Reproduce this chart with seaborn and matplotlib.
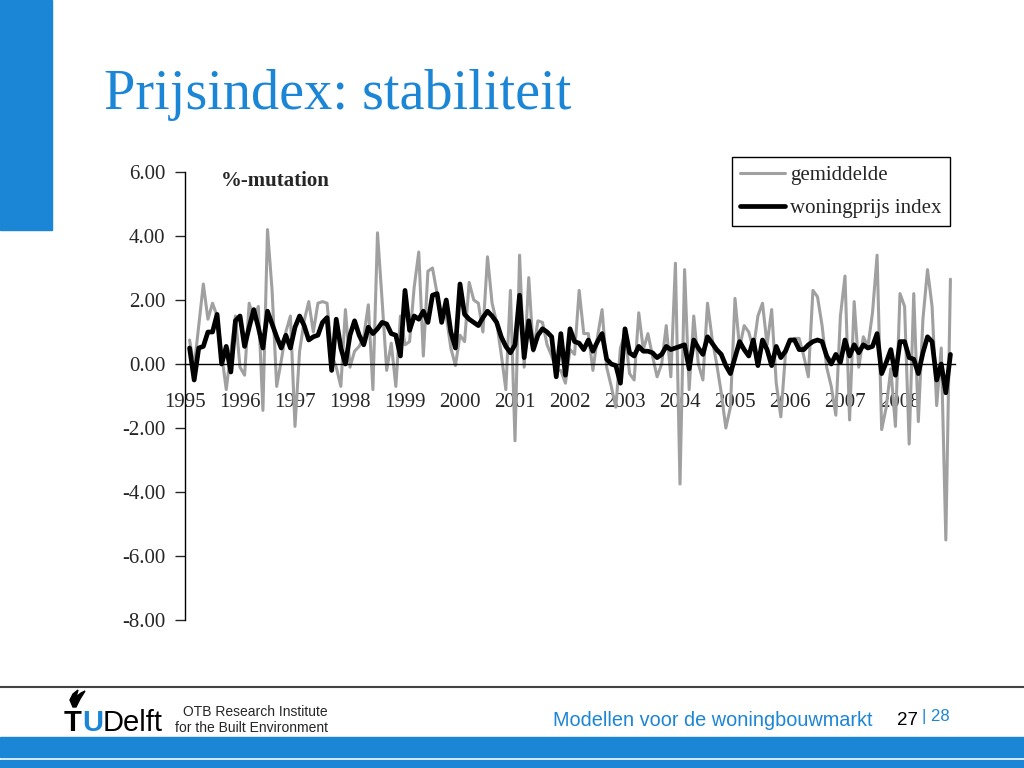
import matplotlib
matplotlib.use("Agg")
import matplotlib.pyplot as plt
from matplotlib.patches import Rectangle, Polygon
from matplotlib.lines import Line2D
import numpy as np
import pandas as pd
import seaborn as sns

# year labels on the category axis (label sits on January of each year)
years = [1995, 1996, 1997, 1998, 1999, 2000, 2001, 2002,
         2003, 2004, 2005, 2006, 2007, 2008]

# monthly %-mutation, Feb 1995 .. Dec 2008 (one row per year)
gemiddelde = [
    0.75, -0.1, 1.2, 2.5, 1.4, 1.9, 1.5, 0.3, -0.8, 0.4, 1.5,
    -0.1, -0.35, 1.9, 1.4, 1.8, -1.45, 4.2, 2.3, -0.7, 0.1, 1.0, 1.5,
    -1.95, 0.4, 1.35, 1.95, 1.0, 1.9, 1.95, 1.9, 0.3, -0.1, -0.7, 1.7,
    -0.1, 0.4, 0.55, 0.85, 1.85, -0.8, 4.1, 2.0, -0.2, 0.65, -0.7, 1.5,
    0.6, 0.7, 2.4, 3.5, 0.25, 2.9, 3.0, 2.2, 1.4, 1.5, 0.5, -0.05,
    0.9, 0.7, 2.55, 2.0, 1.9, 1.0, 3.35, 1.9, 1.3, 0.3, -0.8, 2.3,
    -2.4, 3.4, -0.1, 2.7, 0.4, 1.35, 1.3, 0.6, 0.25, -0.2, -0.2, -0.6,
    0.45, 0.3, 2.3, 0.95, 0.95, -0.2, 0.85, 1.7, -0.1, -0.7, -1.35, 0.5,
    0.95, -0.3, -0.5, 1.6, 0.45, 0.95, 0.25, -0.4, 0.0, 1.2, -0.4, 3.15,
    -3.75, 2.95, -0.8, 1.5, 0.0, -0.5, 1.9, 0.8, 0.0, -0.9, -2.0, -1.35,
    2.05, 0.5, 1.2, 1.0, 0.45, 1.5, 1.9, 0.6, 1.7, -0.6, -1.65, 0.3,
    0.7, 0.8, 0.8, 0.25, -0.4, 2.3, 2.1, 1.2, -0.1, -0.7, -1.6, 1.5,
    2.75, -1.75, 1.95, -0.1, 0.85, 0.55, 1.6, 3.4, -2.05, -1.35, -0.15, -1.95,
    2.2, 1.8, -2.5, 2.2, -1.8, 1.4, 2.95, 1.8, -1.3, 0.5, -5.5, 2.65,
]

woningprijs_index = [
    0.5, -0.5, 0.5, 0.55, 1.0, 1.0, 1.55, 0.0, 0.55, -0.25, 1.35,
    1.5, 0.55, 1.15, 1.7, 1.15, 0.5, 1.65, 1.25, 0.85, 0.5, 0.9, 0.5,
    1.15, 1.5, 1.2, 0.75, 0.85, 0.9, 1.3, 1.45, -0.2, 1.4, 0.5, 0.0,
    0.9, 1.35, 0.9, 0.6, 1.15, 0.95, 1.1, 1.3, 1.25, 0.95, 0.9, 0.25,
    2.3, 1.05, 1.5, 1.4, 1.65, 1.3, 2.15, 2.2, 1.3, 2.0, 1.0, 0.5,
    2.5, 1.55, 1.4, 1.3, 1.2, 1.45, 1.65, 1.5, 1.3, 0.85, 0.55, 0.35,
    0.6, 2.15, 0.2, 1.35, 0.45, 0.9, 1.1, 1.0, 0.85, -0.4, 0.95, -0.35,
    1.1, 0.7, 0.65, 0.45, 0.75, 0.4, 0.7, 0.95, 0.15, 0.0, -0.05, -0.6,
    1.1, 0.35, 0.25, 0.55, 0.4, 0.4, 0.35, 0.2, 0.3, 0.55, 0.45, 0.5,
    0.55, 0.6, -0.15, 0.75, 0.5, 0.3, 0.85, 0.65, 0.45, 0.3, -0.05, -0.3,
    0.2, 0.7, 0.45, 0.25, 0.75, -0.05, 0.75, 0.45, -0.05, 0.55, 0.2, 0.4,
    0.75, 0.75, 0.45, 0.45, 0.6, 0.7, 0.75, 0.7, 0.25, 0.0, 0.3, 0.05,
    0.75, 0.25, 0.6, 0.35, 0.6, 0.5, 0.55, 0.95, -0.3, 0.05, 0.45, -0.35,
    0.7, 0.7, 0.2, 0.15, -0.3, 0.35, 0.85, 0.7, -0.5, 0.0, -0.9, 0.3,
]

yticks = [-8, -6, -4, -2, 0, 2, 4, 6]

BLUE = '#1c86d6'
GREY = '#a0a0a0'
SANS = ['Liberation Sans', 'DejaVu Sans']

sns.set_style('white')
plt.rcParams['font.family'] = ['Liberation Serif', 'DejaVu Serif']
plt.rcParams['axes.unicode_minus'] = False

df = pd.DataFrame({
    'month': np.arange(1, len(woningprijs_index) + 1),
    'gemiddelde': gemiddelde,
    'woningprijs index': woningprijs_index,
})

W, H = 1024, 768
fig = plt.figure(figsize=(W / 100, H / 100), dpi=100)


def fx(x):
    return x / W


def fy(y):
    return 1 - y / H


ax = fig.add_axes([fx(185), fy(620), 770 / W, 448 / H])

sns.lineplot(data=df, x='month', y='gemiddelde', color=GREY, lw=2.2,
             label='gemiddelde', ax=ax)
sns.lineplot(data=df, x='month', y='woningprijs index', color='black', lw=3.4,
             label='woningprijs index', ax=ax)

ax.set_xlim(0, 168)
ax.set_ylim(-8, 6)
ax.set_yticks(yticks)
ax.set_yticklabels([f'{v:.2f}' for v in yticks])
ax.set_xticks([12 * k for k in range(len(years))])
ax.set_xticklabels([str(y) for y in years])
ax.set_xlabel('')
ax.set_ylabel('')

ax.spines['bottom'].set_position(('data', 0))
ax.spines['top'].set_visible(False)
ax.spines['right'].set_visible(False)
for s in ['left', 'bottom']:
    ax.spines[s].set_color('black')
    ax.spines[s].set_linewidth(1.0)
ax.tick_params(axis='x', length=0, pad=21, labelsize=15)
ax.tick_params(axis='y', direction='out', length=7, width=1, pad=7,
               labelsize=15, left=True)

ax.text(0.047, 0.98, '%-mutation', transform=ax.transAxes, fontsize=15,
        fontweight='bold', ha='left', va='center')

leg = ax.legend(loc='upper right', bbox_to_anchor=(0.9935, 1.0335),
                frameon=True, fancybox=False, edgecolor='black',
                framealpha=1, fontsize=15, handlelength=2.15,
                borderaxespad=0, borderpad=0.4, labelspacing=0.65,
                handletextpad=0.25)
leg.get_frame().set_linewidth(1.0)

# slide decoration
fig.patches.append(Rectangle((0, fy(230)), fx(52), 230 / H, color=BLUE,
                             transform=fig.transFigure, zorder=0))
fig.text(fx(104), fy(109), 'Prijsindex: stabiliteit', fontsize=40.5,
         color=BLUE, va='baseline', ha='left')

fig.lines.append(Line2D([0, 1], [fy(687), fy(687)], color='#444444', lw=1.5,
                        transform=fig.transFigure))
fig.patches.append(Rectangle((0, fy(757)), 1, 20 / H, color=BLUE,
                             transform=fig.transFigure))
fig.patches.append(Rectangle((0, 0), 1, 8 / H, color=BLUE,
                             transform=fig.transFigure))

# TU Delft logo
flame = [(73, 707), (70, 700), (73, 694), (78, 690), (76, 697), (81, 693),
         (85, 691), (80, 699), (76, 707)]
fig.patches.append(Polygon([(fx(a), fy(b)) for a, b in flame], closed=True,
                           color='black', transform=fig.transFigure))
fig.text(fx(64), fy(731), 'T', fontsize=21, fontweight='bold', color='black',
         family=SANS, va='baseline')
fig.text(fx(82), fy(731), 'U', fontsize=21, fontweight='bold', color=BLUE,
         family=SANS, va='baseline')
fig.text(fx(103), fy(731), 'Delft', fontsize=21, color='black',
         family=SANS, va='baseline')
fig.text(fx(328), fy(716), 'OTB Research Institute', fontsize=10,
         family=SANS, ha='right', va='baseline')
fig.text(fx(328), fy(732), 'for the Built Environment', fontsize=10,
         family=SANS, ha='right', va='baseline')

fig.text(fx(553), fy(726), 'Modellen voor de woningbouwmarkt', fontsize=14.3,
         color=BLUE, family=SANS, va='baseline')
fig.text(fx(897), fy(725), '27', fontsize=13.5, color='black', family=SANS,
         va='baseline')
fig.text(fx(922), fy(721), '| 28', fontsize=12, color=BLUE, family=SANS,
         va='baseline')

fig.savefig('out.png', dpi=100)
